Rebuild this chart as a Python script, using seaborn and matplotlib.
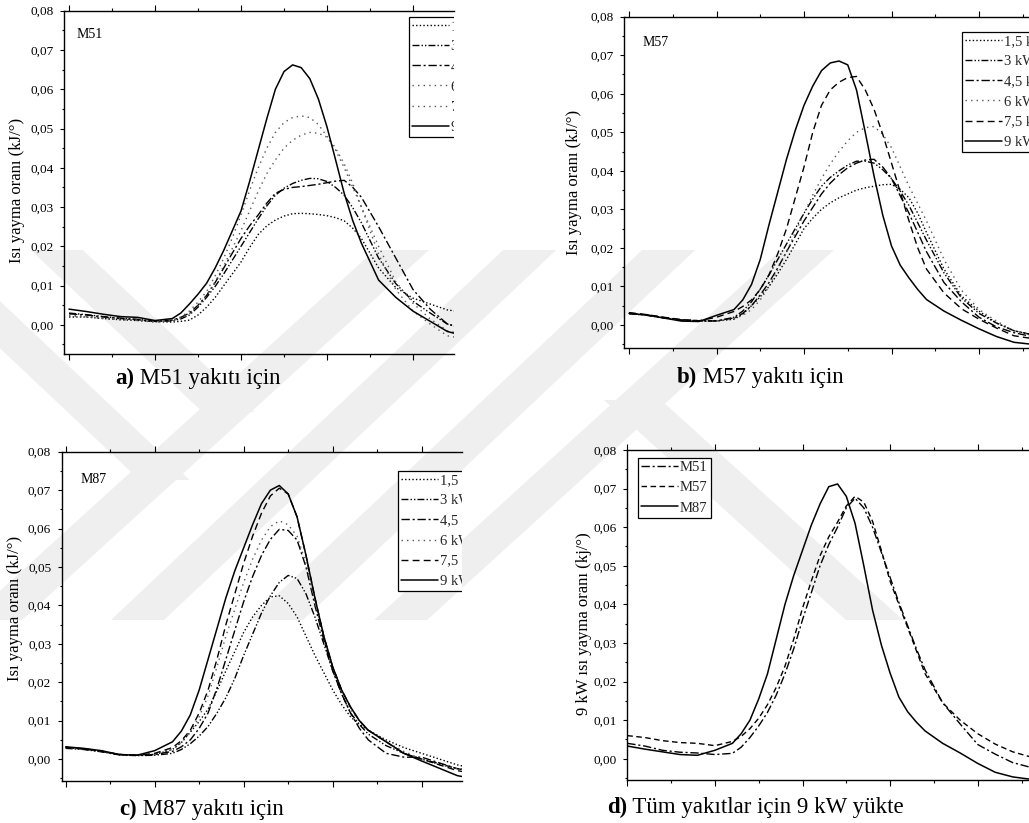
import matplotlib
matplotlib.use("Agg")
import matplotlib.pyplot as plt
from matplotlib.ticker import MultipleLocator, FuncFormatter
from matplotlib.patches import Polygon
import seaborn as sns

# ---------------------------------------------------------------
# Heat release rate (kJ/deg) versus crank angle
# (2 deg steps away from combustion, 1 deg steps from 12 to 34)
# ---------------------------------------------------------------
angle = [0, 2, 4, 6, 8, 10] + list(range(12, 35)) + [36, 38, 40, 42, 44, 46]

loads = ["1,5 kW", "3 kW", "4,5 kW", "6 kW", "7,5 kW", "9 kW"]
fuels = ["M51", "M57", "M87"]

# M51 fuel
m51_15 = [0.0020, 0.0020, 0.0016, 0.0013, 0.0011, 0.0008,
          0.0007, 0.0009, 0.0012, 0.0025, 0.0045, 0.0070, 0.0100, 0.0130, 0.0160, 0.0197, 0.0230, 0.0252,
          0.0267, 0.0277, 0.0283, 0.0284, 0.0283, 0.0281, 0.0278, 0.0273, 0.0265, 0.0246, 0.0220,
          0.0145, 0.0095, 0.0068, 0.0053, 0.0038, 0.0032]
m51_3 = [0.0030, 0.0026, 0.0021, 0.0017, 0.0014, 0.0009,
         0.0010, 0.0015, 0.0025, 0.0045, 0.0070, 0.0098, 0.0130, 0.0165, 0.0200, 0.0235, 0.0270, 0.0303,
         0.0330, 0.0348, 0.0360, 0.0368, 0.0373, 0.0372, 0.0365, 0.0350, 0.0330, 0.0298, 0.0260,
         0.0170, 0.0105, 0.0060, 0.0030, 0.0002, -0.0010]
m51_45 = [0.0028, 0.0025, 0.0020, 0.0016, 0.0013, 0.0009,
          0.0012, 0.0019, 0.0030, 0.0050, 0.0075, 0.0108, 0.0145, 0.0183, 0.0220, 0.0252, 0.0280, 0.0310,
          0.0335, 0.0345, 0.0350, 0.0352, 0.0355, 0.0358, 0.0362, 0.0366, 0.0368, 0.0350, 0.0325,
          0.0250, 0.0170, 0.0090, 0.0040, 0.0002, -0.0010]
m51_6 = [0.0022, 0.0020, 0.0016, 0.0013, 0.0011, 0.0007,
         0.0010, 0.0017, 0.0028, 0.0048, 0.0075, 0.0110, 0.0150, 0.0195, 0.0240, 0.0290, 0.0340, 0.0385,
         0.0420, 0.0450, 0.0470, 0.0483, 0.0490, 0.0488, 0.0478, 0.0445, 0.0400, 0.0350, 0.0300,
         0.0200, 0.0110, 0.0055, 0.0015, -0.0015, -0.0025]
m51_75 = [0.0025, 0.0022, 0.0018, 0.0015, 0.0012, 0.0008,
          0.0012, 0.0020, 0.0035, 0.0058, 0.0085, 0.0125, 0.0170, 0.0222, 0.0280, 0.0342, 0.0400, 0.0450,
          0.0490, 0.0515, 0.0528, 0.0532, 0.0528, 0.0510, 0.0480, 0.0450, 0.0410, 0.0360, 0.0300,
          0.0180, 0.0090, 0.0035, 0.0002, -0.0028, -0.0035]
m51_9 = [0.0040, 0.0034, 0.0027, 0.0021, 0.0019, 0.0011,
         0.0016, 0.0030, 0.0053, 0.0078, 0.0106, 0.0145, 0.0190, 0.0240, 0.0290, 0.0365, 0.0445, 0.0525,
         0.0600, 0.0645, 0.0662, 0.0655, 0.0627, 0.0575, 0.0504, 0.0420, 0.0335, 0.0265, 0.0208,
         0.0114, 0.0070, 0.0035, 0.0009, -0.0017, -0.0028]

# M57 fuel
m57_15 = [0.0030, 0.0026, 0.0019, 0.0013, 0.0011, 0.0010,
          0.0015, 0.0028, 0.0050, 0.0073, 0.0100, 0.0133, 0.0170, 0.0210, 0.0250, 0.0277, 0.0300, 0.0317,
          0.0330, 0.0340, 0.0350, 0.0356, 0.0360, 0.0364, 0.0365, 0.0352, 0.0330, 0.0290, 0.0240,
          0.0145, 0.0075, 0.0036, 0.0005, -0.0015, -0.0025]
m57_3 = [0.0029, 0.0025, 0.0018, 0.0012, 0.0010, 0.0010,
         0.0020, 0.0036, 0.0060, 0.0093, 0.0130, 0.0170, 0.0210, 0.0250, 0.0290, 0.0327, 0.0360, 0.0383,
         0.0400, 0.0415, 0.0425, 0.0425, 0.0420, 0.0403, 0.0380, 0.0347, 0.0310, 0.0265, 0.0220,
         0.0135, 0.0070, 0.0030, 0.0005, -0.0015, -0.0025]
m57_45 = [0.0031, 0.0026, 0.0019, 0.0013, 0.0011, 0.0011,
          0.0018, 0.0030, 0.0050, 0.0078, 0.0110, 0.0148, 0.0190, 0.0230, 0.0270, 0.0305, 0.0340, 0.0368,
          0.0390, 0.0408, 0.0420, 0.0428, 0.0430, 0.0410, 0.0380, 0.0335, 0.0290, 0.0240, 0.0190,
          0.0110, 0.0060, 0.0020, -0.0005, -0.0020, -0.0030]
m57_6 = [0.0030, 0.0026, 0.0019, 0.0013, 0.0011, 0.0010,
         0.0016, 0.0025, 0.0040, 0.0065, 0.0100, 0.0143, 0.0190, 0.0240, 0.0290, 0.0337, 0.0380, 0.0418,
         0.0450, 0.0478, 0.0500, 0.0512, 0.0515, 0.0495, 0.0460, 0.0410, 0.0360, 0.0315, 0.0270,
         0.0170, 0.0090, 0.0040, 0.0010, -0.0015, -0.0025]
m57_75 = [0.0032, 0.0027, 0.0020, 0.0014, 0.0011, 0.0020,
          0.0035, 0.0048, 0.0065, 0.0092, 0.0130, 0.0185, 0.0250, 0.0330, 0.0410, 0.0500, 0.0570, 0.0610,
          0.0630, 0.0642, 0.0645, 0.0610, 0.0560, 0.0495, 0.0420, 0.0345, 0.0270, 0.0200, 0.0145,
          0.0083, 0.0042, 0.0015, -0.0008, -0.0028, -0.0035]
m57_9 = [0.0030, 0.0026, 0.0018, 0.0010, 0.0009, 0.0025,
         0.0040, 0.0065, 0.0105, 0.0170, 0.0260, 0.0345, 0.0430, 0.0505, 0.0570, 0.0620, 0.0660, 0.0680,
         0.0685, 0.0675, 0.0610, 0.0500, 0.0387, 0.0285, 0.0205, 0.0155, 0.0122, 0.0092, 0.0066,
         0.0036, 0.0012, -0.0010, -0.0030, -0.0045, -0.0050]

# M87 fuel
m87_15 = [0.0030, 0.0026, 0.0020, 0.0012, 0.0010, 0.0012,
          0.0025, 0.0043, 0.0070, 0.0098, 0.0130, 0.0178, 0.0230, 0.0280, 0.0330, 0.0370, 0.0400, 0.0422,
          0.0425, 0.0405, 0.0370, 0.0320, 0.0270, 0.0225, 0.0180, 0.0142, 0.0110, 0.0090, 0.0075,
          0.0050, 0.0030, 0.0015, 0.0000, -0.0015, -0.0025]
m87_3 = [0.0028, 0.0025, 0.0019, 0.0011, 0.0009, 0.0010,
         0.0015, 0.0025, 0.0040, 0.0060, 0.0085, 0.0120, 0.0160, 0.0210, 0.0270, 0.0325, 0.0380, 0.0425,
         0.0460, 0.0478, 0.0470, 0.0430, 0.0370, 0.0300, 0.0230, 0.0170, 0.0120, 0.0090, 0.0065,
         0.0035, 0.0015, 0.0000, -0.0012, -0.0025, -0.0030]
m87_45 = [0.0031, 0.0026, 0.0020, 0.0012, 0.0010, 0.0012,
          0.0020, 0.0032, 0.0050, 0.0080, 0.0120, 0.0185, 0.0260, 0.0335, 0.0410, 0.0475, 0.0530, 0.0572,
          0.0598, 0.0595, 0.0570, 0.0500, 0.0400, 0.0310, 0.0230, 0.0170, 0.0120, 0.0080, 0.0050,
          0.0015, 0.0005, 0.0005, -0.0010, -0.0025, -0.0032]
m87_6 = [0.0030, 0.0026, 0.0020, 0.0012, 0.0010, 0.0013,
         0.0025, 0.0043, 0.0070, 0.0110, 0.0165, 0.0240, 0.0320, 0.0390, 0.0460, 0.0520, 0.0570, 0.0605,
         0.0620, 0.0610, 0.0580, 0.0510, 0.0410, 0.0320, 0.0240, 0.0180, 0.0130, 0.0098, 0.0075,
         0.0045, 0.0020, 0.0000, -0.0015, -0.0025, -0.0032]
m87_75 = [0.0030, 0.0027, 0.0021, 0.0012, 0.0010, 0.0015,
          0.0030, 0.0048, 0.0075, 0.0120, 0.0180, 0.0260, 0.0350, 0.0430, 0.0510, 0.0580, 0.0640, 0.0685,
          0.0705, 0.0690, 0.0630, 0.0530, 0.0420, 0.0320, 0.0240, 0.0180, 0.0135, 0.0100, 0.0075,
          0.0045, 0.0015, 0.0000, -0.0015, -0.0030, -0.0038]
m87_9 = [0.0032, 0.0028, 0.0022, 0.0012, 0.0010, 0.0022,
         0.0045, 0.0073, 0.0115, 0.0180, 0.0260, 0.0340, 0.0420, 0.0490, 0.0550, 0.0610, 0.0665, 0.0700,
         0.0712, 0.0690, 0.0630, 0.0530, 0.0420, 0.0320, 0.0240, 0.0180, 0.0136, 0.0100, 0.0075,
         0.0045, 0.0015, -0.0005, -0.0024, -0.0043, -0.0052]

# All fuels at 9 kW
all_m51 = [0.0040, 0.0033, 0.0022, 0.0017, 0.0015, 0.0011,
           0.0014, 0.0030, 0.0055, 0.0085, 0.0120, 0.0165, 0.0220, 0.0285, 0.0360, 0.0430, 0.0500, 0.0555,
           0.0600, 0.0650, 0.0675, 0.0650, 0.0600, 0.0535, 0.0470, 0.0405, 0.0345, 0.0285, 0.0230,
           0.0145, 0.0090, 0.0037, 0.0012, -0.0010, -0.0022]
all_m57 = [0.0060, 0.0055, 0.0047, 0.0042, 0.0040, 0.0034,
           0.0045, 0.0058, 0.0078, 0.0105, 0.0140, 0.0185, 0.0240, 0.0310, 0.0390, 0.0460, 0.0526, 0.0575,
           0.0613, 0.0655, 0.0680, 0.0665, 0.0615, 0.0540, 0.0460, 0.0400, 0.0340, 0.0280, 0.0220,
           0.0145, 0.0100, 0.0065, 0.0038, 0.0018, 0.0005]
all_m87 = [0.0033, 0.0025, 0.0018, 0.0011, 0.0009, 0.0022,
           0.0040, 0.0065, 0.0100, 0.0155, 0.0220, 0.0310, 0.0400, 0.0475, 0.0540, 0.0605, 0.0660, 0.0705,
           0.0712, 0.0680, 0.0610, 0.0500, 0.0385, 0.0295, 0.0222, 0.0160, 0.0122, 0.0095, 0.0072,
           0.0040, 0.0015, -0.0012, -0.0035, -0.0047, -0.0053]

ylabel_load = "Isı yayma oranı (kJ/°)"
ylabel_all = "9 kW ısı yayma oranı (kj/°)"
captions = [("a)", " M51 yakıtı için"), ("b)", " M57 yakıtı için"),
            ("c)", " M87 yakıtı için"), ("d)", " Tüm yakıtlar için 9 kW yükte")]

# ---------------------------------------------------------------
sns.set_theme(style="ticks")
plt.rcParams["font.family"] = ["Liberation Serif", "DejaVu Serif"]
plt.rcParams["axes.unicode_minus"] = False

W, H = 1029, 823
fig = plt.figure(figsize=(W / 100, H / 100), dpi=100)
fig.patch.set_facecolor("white")


def fx(px):
    return px / W


def fy(py):
    return 1 - py / H


# faint page watermark behind the panels
wm_color = "#efefef"
bands = [
    # (left edge x at y=420, width, dx/dy, y_top, y_bottom)
    (76, 50, 1.06, 250, 480),
    (211, 52, 1.06, 250, 412),
    (188, 54, -1.10, 250, 620),
    (323, 53, -1.06, 250, 620),
    (462, 53, -1.06, 250, 620),
    (594, 53, -1.10, 250, 620),
    (626, 57, 1.10, 400, 620),
]
for xl, w, s, ya, yb in bands:
    pts = [(xl + s * (ya - 420), ya), (xl + w + s * (ya - 420), ya),
           (xl + w + s * (yb - 420), yb), (xl + s * (yb - 420), yb)]
    fig.patches.append(Polygon([(fx(x), fy(y)) for x, y in pts], closed=True,
                               transform=fig.transFigure, facecolor=wm_color,
                               edgecolor="none", zorder=-5))

styles_load = {
    "1,5 kW": dict(color="black", ls=(0, (1, 1.6)), lw=1.0),
    "3 kW": dict(color="black", ls=(0, (5, 1.5, 1, 1.5, 1, 1.5)), lw=1.0),
    "4,5 kW": dict(color="black", ls=(0, (6, 2, 1.5, 2)), lw=1.0),
    "6 kW": dict(color="#555555", ls=(0, (1, 3)), lw=1.0),
    "7,5 kW": dict(color="black", ls=(0, (5, 3)), lw=1.0),
    "9 kW": dict(color="black", ls="-", lw=1.1),
}
styles_fuel = {
    "M51": dict(color="black", ls=(0, (6, 2, 1.5, 2)), lw=1.0),
    "M57": dict(color="black", ls=(0, (4, 2.5)), lw=1.0),
    "M87": dict(color="black", ls="-", lw=1.1),
}

panels = [
    dict(series=[m51_15, m51_3, m51_45, m51_6, m51_75, m51_9], names=loads, tag="M51",
         left=64.3, top=10.7, bottom=354.3, right=454, u0=69, ppu=8.6, ymin=-0.0075,
         leg=(409, 17), tagpos=(77, 35), ylab=ylabel_load, ylx=25, yly=190,
         cap=(115, 384), dotted75=True),
    dict(series=[m57_15, m57_3, m57_45, m57_6, m57_75, m57_9], names=loads, tag="M57",
         left=624, top=16.7, bottom=347.7, right=1029, u0=629, ppu=8.75, ymin=-0.0059,
         leg=(962, 32), tagpos=(643, 43), ylab=ylabel_load, ylx=582, yly=182,
         cap=(677, 383), dotted75=False),
    dict(series=[m87_15, m87_3, m87_45, m87_6, m87_75, m87_9], names=loads, tag="M87",
         left=61.7, top=451.7, bottom=781, right=462, u0=65.7, ppu=8.9, ymin=-0.0057,
         leg=(398, 471), tagpos=(81, 480), ylab=ylabel_load, ylx=23, yly=608,
         cap=(119, 815), dotted75=False),
    dict(series=[all_m51, all_m57, all_m87], names=fuels, tag=None,
         left=627, top=450, bottom=780, right=1029, u0=627.3, ppu=8.76, ymin=-0.0055,
         leg=(638, 458), tagpos=None, ylab=ylabel_all, ylx=592, yly=624,
         cap=(607, 813), dotted75=False),
]

comma = FuncFormatter(lambda v, _: f"{v:.2f}".replace(".", ","))

for p in panels:
    ax = fig.add_axes([fx(p["left"]), fy(p["bottom"]),
                       (p["right"] - p["left"]) / W, (p["bottom"] - p["top"]) / H])
    ax.set_facecolor("none")
    ax.set_xlim((p["left"] - p["u0"]) / p["ppu"], (p["right"] - p["u0"]) / p["ppu"])
    ax.set_ylim(p["ymin"], 0.08)

    handles = []
    for name, vals in zip(p["names"], p["series"]):
        st = dict(styles_fuel[name]) if name in styles_fuel else dict(styles_load[name])
        if p["dotted75"] and name == "7,5 kW":
            st = dict(styles_load["6 kW"])
        sns.lineplot(x=angle, y=vals, ax=ax, color=st["color"], linestyle=st["ls"],
                     linewidth=st["lw"], errorbar=None, label=name, legend=False)
        handles.append(ax.get_lines()[-1])

    # axes frame: left, bottom and top spines, ticks pointing outwards
    for side in ["left", "bottom", "top"]:
        ax.spines[side].set_visible(True)
        ax.spines[side].set_linewidth(1.0)
        ax.spines[side].set_color("black")
    ax.spines["right"].set_visible(False)
    ax.xaxis.set_major_locator(MultipleLocator(10))
    ax.xaxis.set_minor_locator(MultipleLocator(5))
    ax.yaxis.set_major_locator(MultipleLocator(0.01))
    ax.yaxis.set_minor_locator(MultipleLocator(0.005))
    ax.yaxis.set_major_formatter(comma)
    ax.tick_params(axis="x", which="both", direction="out", top=True, bottom=True,
                   labelbottom=False, labeltop=False, color="black", width=0.8)
    ax.tick_params(axis="x", which="major", length=4.3)
    ax.tick_params(axis="x", which="minor", length=2.3)
    ax.tick_params(axis="y", which="both", direction="out", left=True, right=False,
                   color="black", width=0.8, labelsize=9.5, pad=5, labelcolor="black")
    ax.tick_params(axis="y", which="major", length=2.6)
    ax.tick_params(axis="y", which="minor", length=1.7)
    ax.set_xlabel("")
    ax.grid(False)

    ax.set_ylabel(p["ylab"], fontsize=12, color="black")
    ax.yaxis.set_label_coords(fx(p["ylx"]), fy(p["yly"]), transform=fig.transFigure)

    leg = ax.legend(handles, p["names"], loc="upper left",
                    bbox_to_anchor=(fx(p["leg"][0]), fy(p["leg"][1])),
                    bbox_transform=fig.transFigure, frameon=True, fancybox=False,
                    edgecolor="black", facecolor="white", framealpha=1, fontsize=10.5,
                    handlelength=2.5, handletextpad=0.15, labelspacing=0.47,
                    borderpad=0.22, borderaxespad=0)
    leg.get_frame().set_linewidth(0.9)
    for art in leg.findobj():
        if art is not leg:
            art.set_clip_box(ax.bbox)
            art.set_clip_on(True)

    if p["tag"]:
        fig.text(fx(p["tagpos"][0]), fy(p["tagpos"][1]), p["tag"], fontsize=10,
                 ha="left", va="center", color="black")

# panel captions: bold letter followed by regular text
renderer = fig.canvas.get_renderer()
for p, (letter, rest) in zip(panels, captions):
    cx, cy = p["cap"]
    t1 = fig.text(fx(cx), fy(cy), letter, fontsize=16.5, fontweight="bold",
                  ha="left", va="baseline", color="black")
    bb = t1.get_window_extent(renderer=renderer)
    fig.text(bb.x1 / fig.dpi / fig.get_figwidth(), fy(cy), rest, fontsize=16.5,
             ha="left", va="baseline", color="black")

fig.savefig("out.png", dpi=100, facecolor="white")
